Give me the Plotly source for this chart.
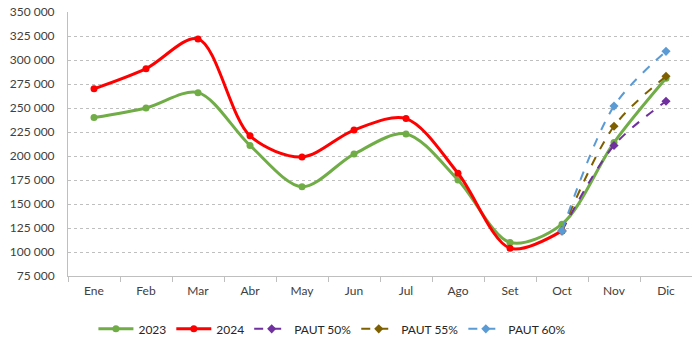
import plotly.graph_objects as go

months = ["Ene", "Feb", "Mar", "Abr", "May", "Jun", "Jul", "Ago", "Set", "Oct", "Nov", "Dic"]
v2023 = [240000, 250000, 266000, 211000, 168000, 202000, 223000, 175000, 110000, 129000, 214000, 281000]
v2024 = [270000, 291000, 322000, 221000, 199000, 227000, 239000, 182000, 104000, 122000]
proj_months = ["Oct", "Nov", "Dic"]
paut50 = [122000, 211000, 257000]
paut55 = [122000, 231000, 283000]
paut60 = [122000, 252000, 309000]

font_family = "Lato, Open Sans, sans-serif"
fig = go.Figure()

fig.add_trace(go.Scatter(x=months, y=v2023, name="2023", mode="lines+markers",
                         line=dict(color="#70AD47", width=3, shape="spline", smoothing=0.9),
                         marker=dict(symbol="circle", size=7, color="#70AD47")))
fig.add_trace(go.Scatter(x=months[:len(v2024)], y=v2024, name="2024", mode="lines+markers",
                         line=dict(color="#FF0000", width=3, shape="spline", smoothing=0.9),
                         marker=dict(symbol="circle", size=7, color="#FF0000")))
for name, vals, col in [("PAUT 50%", paut50, "#7030A0"),
                        ("PAUT 55%", paut55, "#7F6000"),
                        ("PAUT 60%", paut60, "#5B9BD5")]:
    fig.add_trace(go.Scatter(x=proj_months, y=vals, name=name, mode="lines+markers",
                             line=dict(color=col, width=2, dash="dash", shape="spline", smoothing=0.9),
                             marker=dict(symbol="diamond", size=7, color=col)))

fig.update_layout(
    width=692, height=339,
    margin=dict(l=68, r=0, t=12, b=63, autoexpand=False),
    paper_bgcolor="white", plot_bgcolor="white",
    font=dict(family=font_family, size=11, color="#404040"),
    separators=", ",
    showlegend=True,
    legend=dict(orientation="h", xref="container", yref="container",
                x=0.135, xanchor="left", y=0.03, yanchor="middle",
                font=dict(size=12, color="#262626"), traceorder="normal",
                itemwidth=35, tracegroupgap=0),
)
fig.update_xaxes(
    categoryorder="array", categoryarray=months,
    showline=True, linecolor="#BFBFBF", linewidth=1,
    ticks="outside", tickson="boundaries", ticklen=5, tickcolor="#BFBFBF",
    showgrid=False, tickfont=dict(size=12), range=[-0.5, 11.5],
    ticklabelstandoff=4,
)
fig.update_yaxes(
    range=[75000, 350000], dtick=25000, tickformat=",.0f",
    showline=True, linecolor="#BFBFBF", linewidth=1,
    ticks="", ticklabelstandoff=10,
    showgrid=True, gridcolor="#BFBFBF", griddash="dot", gridwidth=1,
    zeroline=False, tickfont=dict(size=12),
)

fig.write_html("out.html")
